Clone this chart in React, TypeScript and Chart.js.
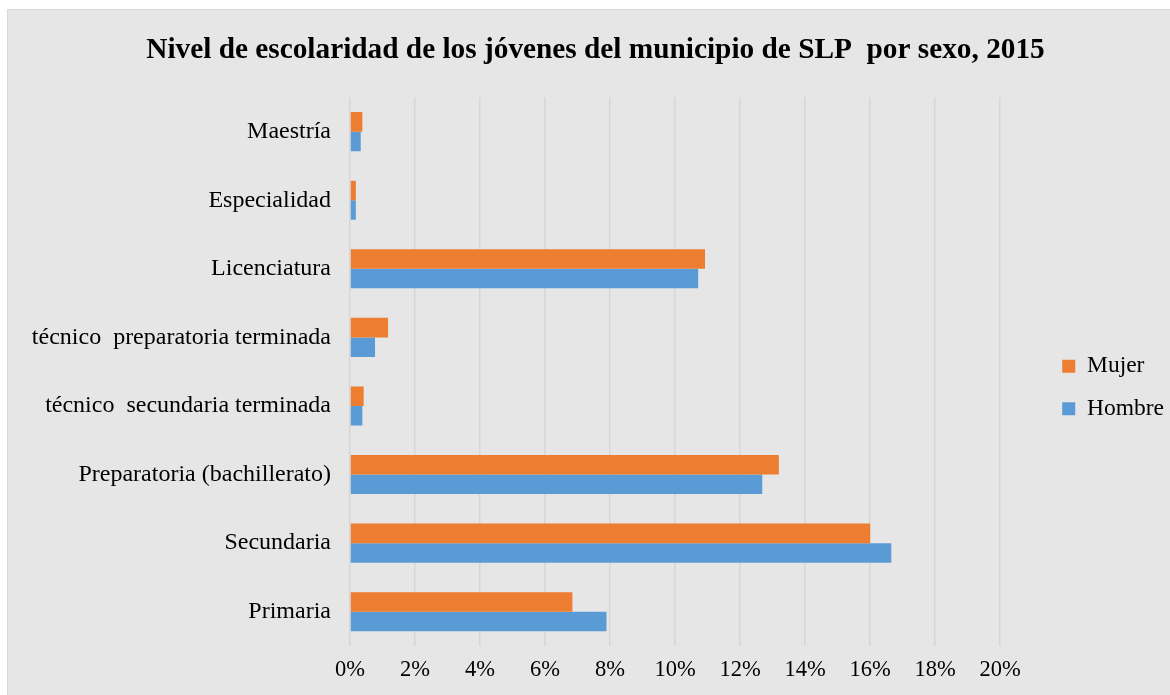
import React, { useEffect, useRef } from "react";
import { Chart, registerables } from "chart.js";

Chart.register(...registerables);

const titleText = "Nivel de escolaridad de los jóvenes del municipio de SLP  por sexo, 2015";
const categories = [
  "Maestría",
  "Especialidad",
  "Licenciatura",
  "técnico  preparatoria terminada",
  "técnico  secundaria terminada",
  "Preparatoria (bachillerato)",
  "Secundaria",
  "Primaria",
];
const seriesNames = ["Mujer", "Hombre"];
const mujer = [0.38, 0.18, 10.92, 1.17, 0.42, 13.19, 16.0, 6.84];
const hombre = [0.33, 0.18, 10.71, 0.77, 0.38, 12.68, 16.65, 7.89];
const xMax = 20;
const xStep = 2;

const FONT = "'Liberation Serif', 'Times New Roman', serif";

const legendShift = {
  id: "legendShift",
  afterLayout(chart: any) {
    const lg = chart.legend;
    if (lg) {
      lg.top += 40;
      lg.bottom += 40;
    }
  },
};

export default function App() {
  const ref = useRef<HTMLCanvasElement | null>(null);

  useEffect(() => {
    if (!ref.current) return;
    const chart = new Chart(ref.current, {
      type: "bar",
      data: {
        labels: categories,
        datasets: [
          {
            label: seriesNames[0],
            data: mujer,
            backgroundColor: "#ED7D31",
            borderWidth: 0,
          },
          {
            label: seriesNames[1],
            data: hombre,
            backgroundColor: "#5B9BD5",
            borderWidth: 0,
          },
        ],
      },
      options: {
        indexAxis: "y",
        animation: false,
        responsive: false,
        maintainAspectRatio: false,
        datasets: { bar: { categoryPercentage: 0.57, barPercentage: 1 } },
        layout: { padding: { left: 17, right: 16, top: 0, bottom: 0 } },
        plugins: {
          title: {
            display: true,
            text: titleText,
            color: "#000",
            font: { family: FONT, size: 29.3, weight: "bold" },
            padding: { top: 33, bottom: 29.2 },
          },
          legend: {
            display: true,
            position: "right",
            labels: {
              color: "#000",
              font: { family: FONT, size: 23.5 },
              boxWidth: 13,
              boxHeight: 13,
              padding: 19,
            },
          },
          tooltip: { enabled: false },
        },
        scales: {
          x: {
            min: 0,
            max: xMax,
            ticks: {
              stepSize: xStep,
              color: "#000",
              font: { family: FONT, size: 22.5 },
              padding: 11,
              callback: (v: any) => v + "%",
            },
            grid: { color: "#d6d6d6", lineWidth: 1.5, drawTicks: false },
            border: { display: false },
          },
          y: {
            ticks: {
              color: "#000",
              font: { family: FONT, size: 24 },
              padding: 19,
            },
            grid: { display: false, drawTicks: false },
            border: { display: false },
            afterFit: (scale: any) => {
              scale.width = 333;
            },
          },
          yGap: {
            type: "category",
            position: "right",
            display: true,
            ticks: { display: false },
            grid: { display: false, drawTicks: false },
            border: { display: false },
            afterFit: (scale: any) => {
              scale.width = 43;
            },
          },
        },
      },
      plugins: [legendShift],
    });
    return () => chart.destroy();
  }, []);

  return (
    <div
      style={{
        position: "fixed",
        left: 0,
        top: 0,
        width: 1170,
        height: 695,
        background: "#ffffff",
        overflow: "hidden",
      }}
    >
      <div
        style={{
          position: "absolute",
          left: 7,
          top: 9,
          width: 1200,
          height: 720,
          background: "#e6e6e6",
          border: "1.5px solid #d9d9d9",
        }}
      />
      <canvas
        ref={ref}
        width={1190}
        height={695}
        style={{ position: "absolute", left: 0, top: 0, width: 1190, height: 695 }}
      />
    </div>
  );
}
